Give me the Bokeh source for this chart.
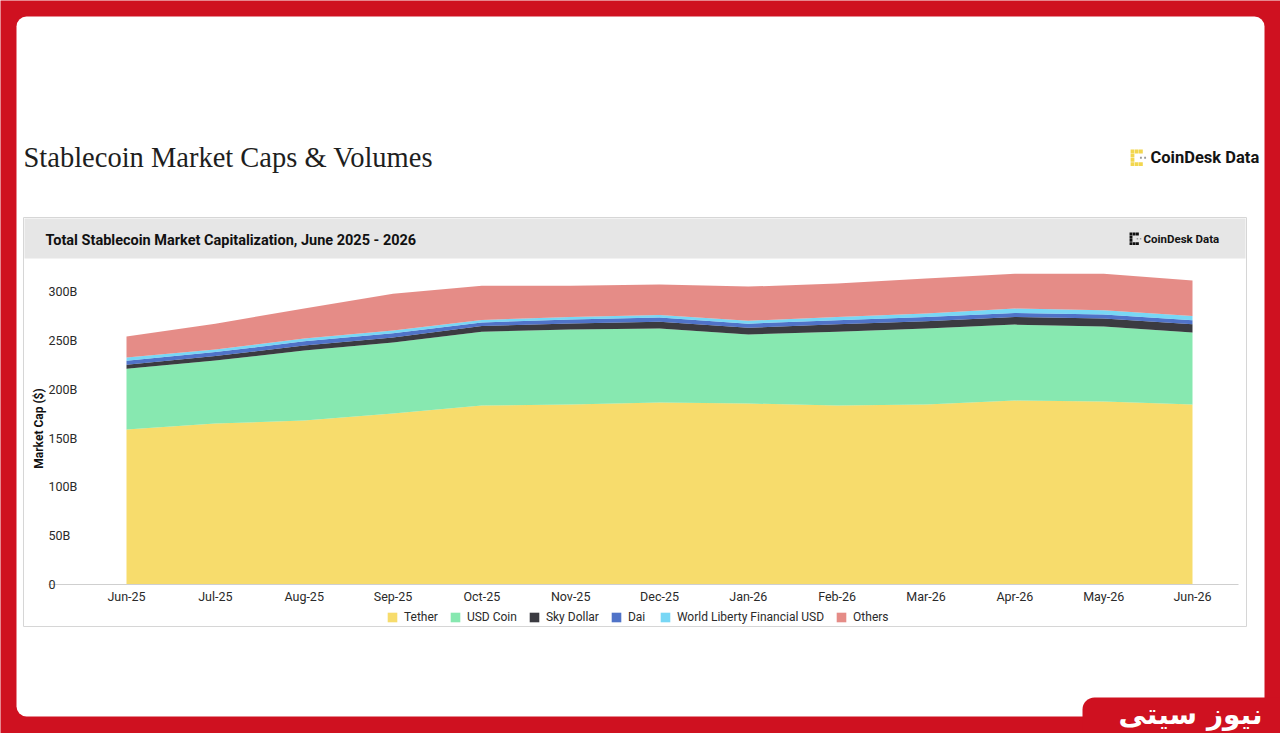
import math
from bokeh.plotting import figure
from bokeh.models import Range1d, LinearAxis, FixedTicker, Legend, LegendItem, ColumnDataSource
from bokeh.core.properties import value
from bokeh.embed import file_html
from bokeh.resources import INLINE

# ---------------- data (billions of USD) ----------------
months = ["Jun-25", "Jul-25", "Aug-25", "Sep-25", "Oct-25", "Nov-25", "Dec-25",
          "Jan-26", "Feb-26", "Mar-26", "Apr-26", "May-26", "Jun-26"]
tether = [158.6, 164.8, 167.9, 175.0, 183.2, 184.2, 186.3, 185.3, 183.2, 184.2, 188.3, 187.3, 184.2]
usd_coin = [62.4, 64.5, 71.6, 72.7, 75.7, 76.8, 75.7, 70.6, 75.7, 77.8, 77.8, 76.8, 73.7]
sky_dollar = [4.1, 4.6, 5.1, 5.3, 5.8, 6.3, 6.9, 7.0, 7.5, 7.6, 7.9, 8.2, 8.5]
dai = [4.1, 4.1, 4.4, 4.3, 3.6, 4.0, 4.4, 4.2, 4.1, 4.2, 4.1, 4.2, 4.1]
world_liberty = [3.1, 2.6, 2.8, 2.7, 2.6, 2.5, 2.6, 3.0, 3.3, 3.7, 4.4, 4.3, 4.3]
others = [21.5, 26.5, 30.7, 37.8, 35.1, 32.2, 31.2, 34.9, 34.3, 35.7, 35.8, 37.5, 36.4]

series_names = ["Tether", "USD Coin", "Sky Dollar", "Dai", "World Liberty Financial USD", "Others"]
series_keys = ["tether", "usd_coin", "sky_dollar", "dai", "world_liberty", "others"]
series_colors = ["#F5D347", "#69E29C", "#0A0A12", "#2450BA", "#56CDF3", "#DE6F69"]

y_ticks = [0, 50, 100, 150, 200, 250, 300]
y_tick_labels = ["0", "50B", "100B", "150B", "200B", "250B", "300B"]

# ---------------- layout (page pixel coordinates) ----------------
W, H = 1280, 733
PAGE_L, PAGE_T = 0, 0
X_FIRST_PX, X_LAST_PX = 126, 1192      # where first/last month sit
Y_ZERO_PX, Y_300_PX = 584, 291         # where 0 and 300B sit
ppm = (X_LAST_PX - X_FIRST_PX) / (len(months) - 1)
ppb = (Y_ZERO_PX - Y_300_PX) / 300.0

def x_of(px):
    return (px - X_FIRST_PX) / ppm

def y_of(py):
    return (Y_ZERO_PX - py) / ppb

RED = "#CF1120"

p = figure(width=W, height=H, output_backend="svg", toolbar_location=None,
           x_axis_type=None, y_axis_type=None, title=None, min_border=0,
           x_range=Range1d(x_of(PAGE_L), x_of(PAGE_L + W)),
           y_range=Range1d(y_of(PAGE_T + H), y_of(PAGE_T)),
           background_fill_color=RED, border_fill_color=RED, outline_line_color=None)
p.extra_x_ranges = {"px": Range1d(PAGE_L, PAGE_L + W)}
p.extra_y_ranges = {"py": Range1d(PAGE_T + H, PAGE_T)}

# ---------------- decoration: card, chart box, header ----------------
p.quad(left=[16], right=[1264], top=[16], bottom=[716], x_range_name="px", y_range_name="py",
       fill_color="white", line_color=None, border_radius=10)
p.quad(left=[1082], right=[1300], top=[697], bottom=[760], x_range_name="px", y_range_name="py",
       fill_color=RED, line_color=None, border_radius=12)
p.quad(left=[23], right=[1246], top=[217], bottom=[626], x_range_name="px", y_range_name="py",
       fill_color="white", line_color="#D6D6D6", line_width=1)
p.quad(left=[24], right=[1245], top=[218], bottom=[258], x_range_name="px", y_range_name="py",
       fill_color="#E6E6E6", line_color=None)

# ---------------- stacked areas ----------------
src = ColumnDataSource(dict(x=list(range(len(months))), tether=tether, usd_coin=usd_coin,
                            sky_dollar=sky_dollar, dai=dai, world_liberty=world_liberty, others=others))
renderers = p.varea_stack(series_keys, x="x", source=src, color=series_colors, fill_alpha=0.8)

# ---------------- axes ----------------
xaxis = LinearAxis(fixed_location=0, ticker=FixedTicker(ticks=list(range(len(months)))),
                   major_label_overrides={i: m for i, m in enumerate(months)},
                   bounds=(x_of(48), x_of(1238)),
                   axis_line_color="#CFCFCF", axis_line_width=1,
                   major_tick_line_color=None, minor_tick_line_color=None,
                   major_tick_out=0, major_tick_in=0, major_label_standoff=4,
                   major_label_text_font="Roboto", major_label_text_font_size="12.5px",
                   major_label_text_color="#2A2A2A")
p.add_layout(xaxis, "below")

yaxis = LinearAxis(fixed_location=x_of(48), ticker=FixedTicker(ticks=y_ticks),
                   major_label_overrides={t: l for t, l in zip(y_ticks, y_tick_labels)},
                   bounds=(0, 300),
                   axis_line_color=None, major_tick_line_color=None, minor_tick_line_color=None,
                   major_tick_out=0, major_tick_in=0, major_label_standoff=0,
                   major_label_text_font="Roboto", major_label_text_font_size="12.5px",
                   major_label_text_color="#2A2A2A")
p.add_layout(yaxis, "right")

# ---------------- texts ----------------
p.text(x=[23], y=[157], text=["Stablecoin Market Caps & Volumes"], x_range_name="px", y_range_name="py",
       text_font=value("Liberation Serif"), text_font_size="28.5px", text_color="#1E1E1E",
       text_align="left", text_baseline="middle")
p.text(x=[45], y=[240], text=["Total Stablecoin Market Capitalization, June 2025 - 2026"],
       x_range_name="px", y_range_name="py",
       text_font=value("Roboto"), text_font_style="bold", text_font_size="14.5px", text_color="#111111",
       text_align="left", text_baseline="middle")
p.text(x=[38], y=[428], text=["Market Cap ($)"], x_range_name="px", y_range_name="py", angle=math.pi / 2,
       text_font=value("Roboto"), text_font_style="bold", text_font_size="12px", text_color="#111111",
       text_align="center", text_baseline="middle")

# CoinDesk Data marks
def logo(x0, y0, cell, color):
    cells = [(0, 0), (1, 0), (2, 0), (0, 1), (0, 2), (0, 3), (1, 3), (2, 3)]
    dots = [(2, 1.5), (3, 1.5)]
    p.rect(x=[x0 + c * cell for c, r in cells], y=[y0 + r * cell for c, r in cells],
           width=cell * 0.9, height=cell * 0.9, x_range_name="px", y_range_name="py",
           fill_color=color, line_color=None)
    p.rect(x=[x0 + c * cell for c, r in dots], y=[y0 + r * cell for c, r in dots],
           width=cell * 0.45, height=cell * 0.45, x_range_name="px", y_range_name="py",
           fill_color="#9A9A9A", line_color=None)

logo(1132, 151, 4.2, "#F2D64E")
p.text(x=[1150], y=[157], text=["CoinDesk Data"], x_range_name="px", y_range_name="py",
       text_font=value("Roboto"), text_font_style="bold", text_font_size="16.5px", text_color="#141414",
       text_align="left", text_baseline="middle")
logo(1130.5, 233.5, 3.2, "#111111")
p.text(x=[1143], y=[238], text=["CoinDesk Data"], x_range_name="px", y_range_name="py",
       text_font=value("Roboto"), text_font_style="bold", text_font_size="11.5px", text_color="#141414",
       text_align="left", text_baseline="middle")

# brand tab
p.text(x=[1262], y=[714], text=["نیوز سیتی"], x_range_name="px", y_range_name="py",
       text_font=value("DejaVu Sans"), text_font_style="bold", text_font_size="28px", text_color="white",
       text_align="right", text_baseline="middle")

# ---------------- legend ----------------
legend = Legend(items=[LegendItem(label=n, renderers=[r]) for n, r in zip(series_names, renderers)],
                location=(386 - PAGE_L, PAGE_T + H - 624), orientation="horizontal",
                glyph_width=12, glyph_height=12, label_standoff=6, spacing=11,
                padding=0, margin=0, border_line_color=None, background_fill_alpha=0,
                label_text_font="Roboto", label_text_font_size="12px", label_text_color="#2A2A2A",
                label_height=12)
p.add_layout(legend)

open("out.html", "w").write(file_html(p, INLINE))
